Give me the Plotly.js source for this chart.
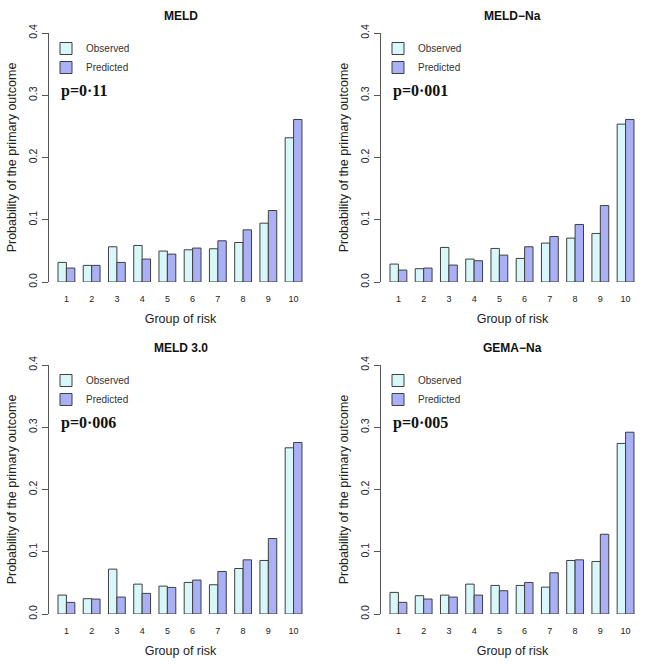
<!DOCTYPE html>
<html>
<head>
<meta charset="utf-8">
<script src="https://cdn.plot.ly/plotly-3.0.1.min.js"></script>
<style>html,body{margin:0;padding:0;background:#fff;} #chart{width:664px;height:664px;}</style>
</head>
<body>
<div id="chart"></div>
<script>
const groups = ["1","2","3","4","5","6","7","8","9","10"];
const panelTitles = ["MELD", "MELD\u2212Na", "MELD 3.0", "GEMA\u2212Na"];
const pValues = ["p=0\u00b711", "p=0\u00b7001", "p=0\u00b7006", "p=0\u00b7005"];

const meldObserved   = [0.0315, 0.0267, 0.0566, 0.0587, 0.0497, 0.0518, 0.0534, 0.0635, 0.0945, 0.2317];
const meldPredicted  = [0.0224, 0.0267, 0.0315, 0.0368, 0.0448, 0.0545, 0.0662, 0.0838, 0.1148, 0.2611];
const meldNaObserved  = [0.0288, 0.0214, 0.0555, 0.0368, 0.0539, 0.0379, 0.0625, 0.0705, 0.0780, 0.2536];
const meldNaPredicted = [0.0192, 0.0224, 0.0272, 0.0342, 0.0432, 0.0566, 0.0731, 0.0924, 0.1228, 0.2611];
const meld3Observed  = [0.0304, 0.0246, 0.0721, 0.0480, 0.0448, 0.0507, 0.0470, 0.0731, 0.0860, 0.2670];
const meld3Predicted = [0.0187, 0.0240, 0.0272, 0.0331, 0.0427, 0.0545, 0.0683, 0.0870, 0.1212, 0.2755];
const gemaObserved   = [0.0347, 0.0294, 0.0304, 0.0480, 0.0459, 0.0459, 0.0432, 0.0860, 0.0844, 0.2740];
const gemaPredicted  = [0.0187, 0.0240, 0.0272, 0.0304, 0.0374, 0.0507, 0.0662, 0.0870, 0.1281, 0.2920];

const yTickVals = [0, 0.1, 0.2, 0.3, 0.4];
const yTickText = ["0.0", "0.1", "0.2", "0.3", "0.4"];

const observedSeries = [meldObserved, meldNaObserved, meld3Observed, gemaObserved];
const predictedSeries = [meldPredicted, meldNaPredicted, meld3Predicted, gemaPredicted];

const obsColor = "#d8f7f8";
const predColor = "#a9b0f6";
const edge = "#3f3f3f";

const W = 664, H = 664;
const offsets = [[0,0],[332,0],[0,332],[332,332]];
const plotL = 49, plotR = 312, plotT = 33, plotB = 282;

const data = [];
const layout = {
  width: W, height: H,
  margin: {l:0, r:0, t:0, b:0},
  paper_bgcolor: "#ffffff",
  plot_bgcolor: "rgba(0,0,0,0)",
  barmode: "group",
  bargap: 1/3,
  bargroupgap: 0,
  font: {family: "Liberation Sans, Arial, sans-serif", color: "#222"},
  annotations: [],
  showlegend: true
};

for (let i = 0; i < 4; i++) {
  const [ox, oy] = offsets[i];
  const sfx = i === 0 ? "" : String(i + 1);
  const xa = "x" + sfx, ya = "y" + sfx;
  const legName = "legend" + sfx;
  data.push({
    type: "bar", x: groups, y: observedSeries[i], name: "Observed",
    xaxis: xa, yaxis: ya, legend: legName,
    marker: {color: obsColor, line: {color: edge, width: 1}},
    hoverinfo: "y"
  });
  data.push({
    type: "bar", x: groups, y: predictedSeries[i], name: "Predicted",
    xaxis: xa, yaxis: ya, legend: legName,
    marker: {color: predColor, line: {color: edge, width: 1}},
    hoverinfo: "y"
  });
  const xd = [(ox + plotL) / W, (ox + plotR) / W];
  const yd = [1 - (oy + plotB) / H, 1 - (oy + plotT) / H];
  layout["xaxis" + sfx] = {
    domain: xd, anchor: ya, type: "category",
    range: [-0.69, 9.73],
    showline: false, showgrid: false, zeroline: false, ticks: "",
    tickfont: {size: 9, color: "#222"},
    ticklabelstandoff: 10,
    title: {text: "Group of risk", font: {size: 12.5, color: "#222"}, standoff: 11},
    fixedrange: true
  };
  layout["yaxis" + sfx] = {
    domain: yd, anchor: xa,
    range: [0, 0.4],
    showline: true, linecolor: "#555", linewidth: 1,
    showgrid: false, zeroline: false,
    ticks: "outside", ticklen: 6, tickcolor: "#555", tickwidth: 1,
    tickvals: yTickVals, ticktext: yTickText,
    tickangle: -90,
    tickfont: {size: 10.5, color: "#222"},
    ticklabelstandoff: 1,
    title: {text: "Probability of the primary outcome", font: {size: 12.5, color: "#222"}, standoff: 7},
    fixedrange: true
  };
  layout[legName] = {
    x: (ox + 46) / W, y: 1 - (oy + 34) / H,
    xanchor: "left", yanchor: "top",
    bgcolor: "rgba(0,0,0,0)",
    font: {size: 10, color: "#333"},
    tracegroupgap: 0,
    itemwidth: 30,
    traceorder: "normal"
  };
  layout.annotations.push({
    text: "<b>" + panelTitles[i] + "</b>",
    xref: "paper", yref: "paper",
    x: (ox + (plotL + plotR) / 2) / W, y: 1 - (oy + 16) / H,
    xanchor: "center", yanchor: "middle", showarrow: false,
    font: {size: 12, color: "#111"}
  });
  layout.annotations.push({
    text: "<b>" + pValues[i] + "</b>",
    xref: "paper", yref: "paper",
    x: (ox + 59) / W, y: 1 - (oy + 91) / H,
    xanchor: "left", yanchor: "middle", showarrow: false,
    font: {size: 16, color: "#111", family: "Liberation Serif, Times New Roman, serif"}
  });
}

Plotly.newPlot("chart", data, layout, {staticPlot: true, displayModeBar: false});
</script>
</body>
</html>
